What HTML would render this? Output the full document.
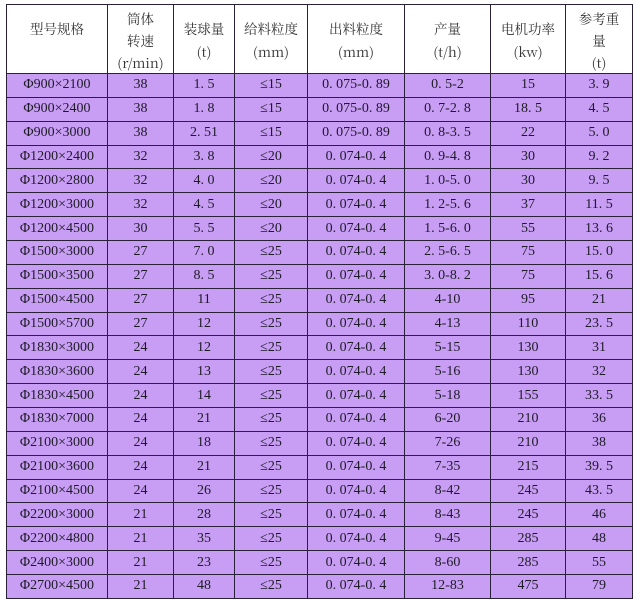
<!DOCTYPE html>
<html>
<head>
<meta charset="utf-8">
<style>
html,body{margin:0;padding:0;background:#fff;}
body{width:640px;height:608px;position:relative;overflow:hidden;}
table{position:absolute;left:6px;top:4px;border-collapse:collapse;table-layout:fixed;width:627px;
 font-family:"Liberation Serif","Noto Serif CJK SC",serif;color:#1e1a26;}
td{border:1px solid #2a2038;text-align:center;padding:0;font-size:14px;white-space:nowrap;overflow:hidden;}
tr.h td{height:68px;background:#fff;vertical-align:top;font-family:"Noto Serif CJK SC","Liberation Serif",serif;font-size:13.5px;color:#333;}
tr.d td{height:22.86px;background:#c89ef5;line-height:22px;}
.h2{padding-top:12px;line-height:23px;}
.h3{padding-top:2px;line-height:22px;}
</style>
</head>
<body>
<table>
<colgroup>
<col style="width:101px"><col style="width:66px"><col style="width:61px"><col style="width:73px"><col style="width:97px"><col style="width:86px"><col style="width:75px"><col style="width:67px">
</colgroup>
<tr class="h">
<td><div class="h2">型号规格</div></td>
<td><div class="h3">筒体<br>转速<br>(r/min)</div></td>
<td><div class="h2">装球量<br>(t)</div></td>
<td><div class="h2">给料粒度<br>(mm)</div></td>
<td><div class="h2">出料粒度<br>(mm)</div></td>
<td><div class="h2">产量<br>(t/h)</div></td>
<td><div class="h2">电机功率<br>(kw)</div></td>
<td><div class="h3">参考重<br>量<br>(t)</div></td>
</tr>
<tr class="d"><td>Φ900×2100</td><td>38</td><td>1. 5</td><td>≤15</td><td>0. 075-0. 89</td><td>0. 5-2</td><td>15</td><td>3. 9</td></tr>
<tr class="d"><td>Φ900×2400</td><td>38</td><td>1. 8</td><td>≤15</td><td>0. 075-0. 89</td><td>0. 7-2. 8</td><td>18. 5</td><td>4. 5</td></tr>
<tr class="d"><td>Φ900×3000</td><td>38</td><td>2. 51</td><td>≤15</td><td>0. 075-0. 89</td><td>0. 8-3. 5</td><td>22</td><td>5. 0</td></tr>
<tr class="d"><td>Φ1200×2400</td><td>32</td><td>3. 8</td><td>≤20</td><td>0. 074-0. 4</td><td>0. 9-4. 8</td><td>30</td><td>9. 2</td></tr>
<tr class="d"><td>Φ1200×2800</td><td>32</td><td>4. 0</td><td>≤20</td><td>0. 074-0. 4</td><td>1. 0-5. 0</td><td>30</td><td>9. 5</td></tr>
<tr class="d"><td>Φ1200×3000</td><td>32</td><td>4. 5</td><td>≤20</td><td>0. 074-0. 4</td><td>1. 2-5. 6</td><td>37</td><td>11. 5</td></tr>
<tr class="d"><td>Φ1200×4500</td><td>30</td><td>5. 5</td><td>≤20</td><td>0. 074-0. 4</td><td>1. 5-6. 0</td><td>55</td><td>13. 6</td></tr>
<tr class="d"><td>Φ1500×3000</td><td>27</td><td>7. 0</td><td>≤25</td><td>0. 074-0. 4</td><td>2. 5-6. 5</td><td>75</td><td>15. 0</td></tr>
<tr class="d"><td>Φ1500×3500</td><td>27</td><td>8. 5</td><td>≤25</td><td>0. 074-0. 4</td><td>3. 0-8. 2</td><td>75</td><td>15. 6</td></tr>
<tr class="d"><td>Φ1500×4500</td><td>27</td><td>11</td><td>≤25</td><td>0. 074-0. 4</td><td>4-10</td><td>95</td><td>21</td></tr>
<tr class="d"><td>Φ1500×5700</td><td>27</td><td>12</td><td>≤25</td><td>0. 074-0. 4</td><td>4-13</td><td>110</td><td>23. 5</td></tr>
<tr class="d"><td>Φ1830×3000</td><td>24</td><td>12</td><td>≤25</td><td>0. 074-0. 4</td><td>5-15</td><td>130</td><td>31</td></tr>
<tr class="d"><td>Φ1830×3600</td><td>24</td><td>13</td><td>≤25</td><td>0. 074-0. 4</td><td>5-16</td><td>130</td><td>32</td></tr>
<tr class="d"><td>Φ1830×4500</td><td>24</td><td>14</td><td>≤25</td><td>0. 074-0. 4</td><td>5-18</td><td>155</td><td>33. 5</td></tr>
<tr class="d"><td>Φ1830×7000</td><td>24</td><td>21</td><td>≤25</td><td>0. 074-0. 4</td><td>6-20</td><td>210</td><td>36</td></tr>
<tr class="d"><td>Φ2100×3000</td><td>24</td><td>18</td><td>≤25</td><td>0. 074-0. 4</td><td>7-26</td><td>210</td><td>38</td></tr>
<tr class="d"><td>Φ2100×3600</td><td>24</td><td>21</td><td>≤25</td><td>0. 074-0. 4</td><td>7-35</td><td>215</td><td>39. 5</td></tr>
<tr class="d"><td>Φ2100×4500</td><td>24</td><td>26</td><td>≤25</td><td>0. 074-0. 4</td><td>8-42</td><td>245</td><td>43. 5</td></tr>
<tr class="d"><td>Φ2200×3000</td><td>21</td><td>28</td><td>≤25</td><td>0. 074-0. 4</td><td>8-43</td><td>245</td><td>46</td></tr>
<tr class="d"><td>Φ2200×4800</td><td>21</td><td>35</td><td>≤25</td><td>0. 074-0. 4</td><td>9-45</td><td>285</td><td>48</td></tr>
<tr class="d"><td>Φ2400×3000</td><td>21</td><td>23</td><td>≤25</td><td>0. 074-0. 4</td><td>8-60</td><td>285</td><td>55</td></tr>
<tr class="d"><td>Φ2700×4500</td><td>21</td><td>48</td><td>≤25</td><td>0. 074-0. 4</td><td>12-83</td><td>475</td><td>79</td></tr>
</table>
</body>
</html>
